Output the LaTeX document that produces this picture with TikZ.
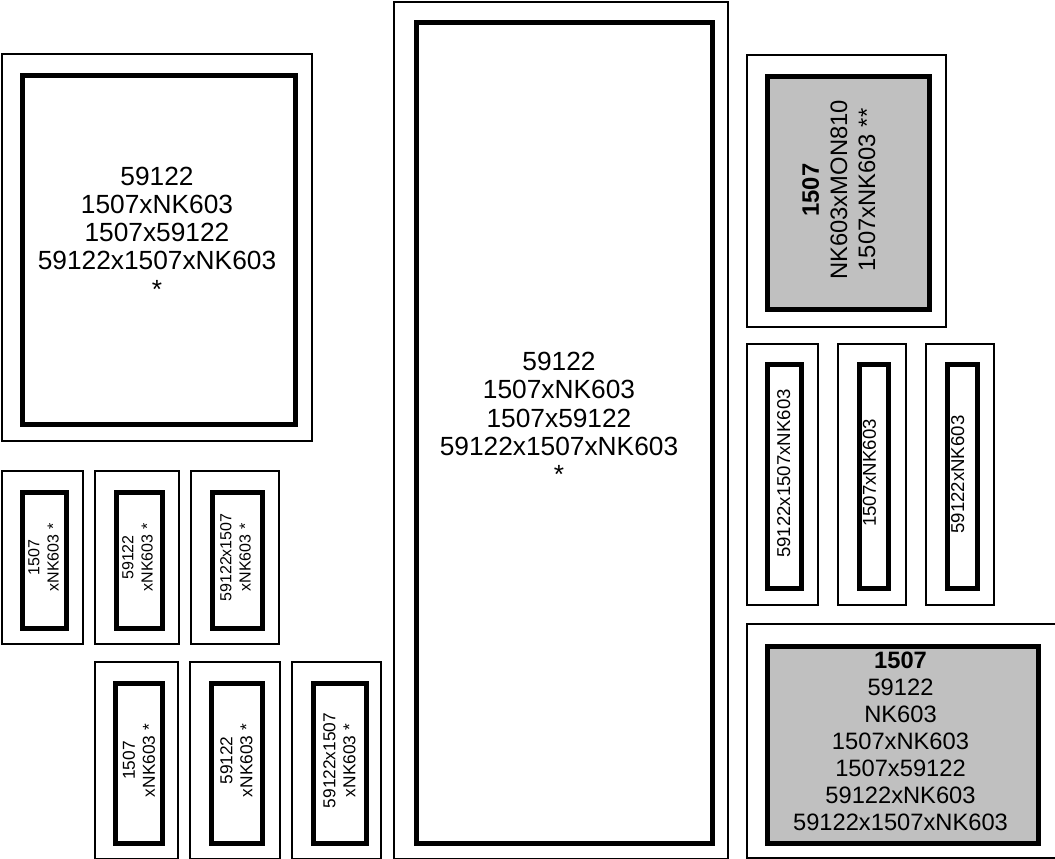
\documentclass[tikz,border=0pt]{standalone}
\usepackage{fontspec}
\setmainfont{Liberation Sans}
\definecolor{boxgray}{RGB}{192,192,192}
\tikzset{
  outerbox/.style={draw, line width=2pt, inner sep=0pt, anchor=north west},
  innerbox/.style={draw, line width=5pt, inner sep=0pt, anchor=north west},
  graybox/.style={innerbox, fill=boxgray},
  bigtxt/.style={inner sep=0pt, align=center, font=\fontsize{26.3}{28.3}\selectfont},
  graytxt/.style={inner sep=0pt, align=center, font=\fontsize{23.8}{28.2}\selectfont},
  graytxtb/.style={inner sep=0pt, align=center, font=\fontsize{23.7}{26.9}\selectfont},
  midtxt/.style={inner sep=0pt, align=center, rotate=90, font=\fontsize{18.6}{21}\selectfont},
  smalltxt/.style={inner sep=0pt, align=center, rotate=90, font=\fontsize{16}{19.2}\selectfont},
  smalltxtb/.style={inner sep=0pt, align=center, rotate=90, font=\fontsize{17.3}{20}\selectfont}
}
\begin{document}
\begin{tikzpicture}[x=1pt,y=1pt]
\useasboundingbox (0,0) rectangle (1055,-859);
\clip (0,0) rectangle (1055,-859);
% left big box
\node[outerbox, minimum width=310pt, minimum height=387pt] (Lout) at (1,-53) {};
\node[innerbox, minimum width=273pt, minimum height=349pt] (Lin) at (19.5,-73) {};
\node[bigtxt, anchor=north] (Ltxt) at (157,-166.5) {59122\\1507xNK603\\1507x59122\\59122x1507xNK603\\*};
% middle big box
\node[outerbox, minimum width=334pt, minimum height=857pt] (Mout) at (393,-1) {};
\node[innerbox, minimum width=296pt, minimum height=820pt] (Min) at (413.5,-20.5) {};
\node[bigtxt, anchor=north] (Mtxt) at (559,-352) {59122\\1507xNK603\\1507x59122\\59122x1507xNK603\\*};
% top right gray box
\node[outerbox, minimum width=199pt, minimum height=272pt] (TRout) at (746,-54) {};
\node[graybox, minimum width=162pt, minimum height=232.5pt] (TRin) at (764.5,-74) {};
\node[graytxt, rotate=90, anchor=north] (TRtxt) at (802,-190) {\textbf{1507}\\NK603xMON810\\1507xNK603 **};
% right column
\node[outerbox, minimum width=71pt, minimum height=261pt] (R1out) at (746,-343) {};
\node[innerbox, minimum width=34pt, minimum height=223.5pt] (R1in) at (764.5,-362) {};
\node[midtxt, anchor=north] (R1txt) at (777,-473.5) {59122x1507xNK603};
\node[outerbox, minimum width=68pt, minimum height=261pt] (R2out) at (837,-343) {};
\node[innerbox, minimum width=29pt, minimum height=223.5pt] (R2in) at (856.5,-362) {};
\node[midtxt, anchor=north] (R2txt) at (862.7,-473) {1507xNK603};
\node[outerbox, minimum width=68pt, minimum height=261pt] (R3out) at (925,-343) {};
\node[innerbox, minimum width=30pt, minimum height=223.5pt] (R3in) at (944.5,-362) {};
\node[midtxt, anchor=north] (R3txt) at (951,-474.5) {59122xNK603};
% bottom right gray box
\node[outerbox, minimum width=324pt, minimum height=234pt] (BRout) at (746,-623) {};
\node[graybox, minimum width=271.5pt, minimum height=197pt] (BRin) at (764.5,-644) {};
\node[graytxtb, anchor=north] (BRtxt) at (900.5,-652) {\textbf{1507}\\59122\\NK603\\1507xNK603\\1507x59122\\59122xNK603\\59122x1507xNK603};
% small boxes row 1
\node[outerbox, minimum width=81pt, minimum height=173pt] (S1out) at (1,-470) {};
\node[innerbox, minimum width=44pt, minimum height=136pt] (S1in) at (19.5,-489.5) {};
\node[smalltxt] (S1txt) at (43.5,-557.5) {1507\\xNK603 *};
\node[outerbox, minimum width=84pt, minimum height=173pt] (S2out) at (94,-470) {};
\node[innerbox, minimum width=46pt, minimum height=136pt] (S2in) at (113.5,-489.5) {};
\node[smalltxt] (S2txt) at (137.5,-557.5) {59122\\xNK603 *};
\node[outerbox, minimum width=88pt, minimum height=173pt] (S3out) at (190,-470) {};
\node[innerbox, minimum width=50pt, minimum height=136pt] (S3in) at (209.5,-489.5) {};
\node[smalltxt] (S3txt) at (235.5,-557.5) {59122x1507\\xNK603 *};
% small boxes row 2
\node[outerbox, minimum width=83pt, minimum height=197pt] (T1out) at (94,-661) {};
\node[innerbox, minimum width=47pt, minimum height=160pt] (T1in) at (112.5,-680.5) {};
\node[smalltxtb] (T1txt) at (139,-760.5) {1507\\xNK603 *};
\node[outerbox, minimum width=90pt, minimum height=197pt] (T2out) at (189,-661) {};
\node[innerbox, minimum width=51pt, minimum height=160pt] (T2in) at (208.5,-680.5) {};
\node[smalltxtb] (T2txt) at (236.5,-760.5) {59122\\xNK603 *};
\node[outerbox, minimum width=89pt, minimum height=197pt] (T3out) at (291,-661) {};
\node[innerbox, minimum width=53pt, minimum height=160pt] (T3in) at (310.5,-680.5) {};
\node[smalltxtb] (T3txt) at (339.5,-760.5) {59122x1507\\xNK603 *};
\end{tikzpicture}
\end{document}
